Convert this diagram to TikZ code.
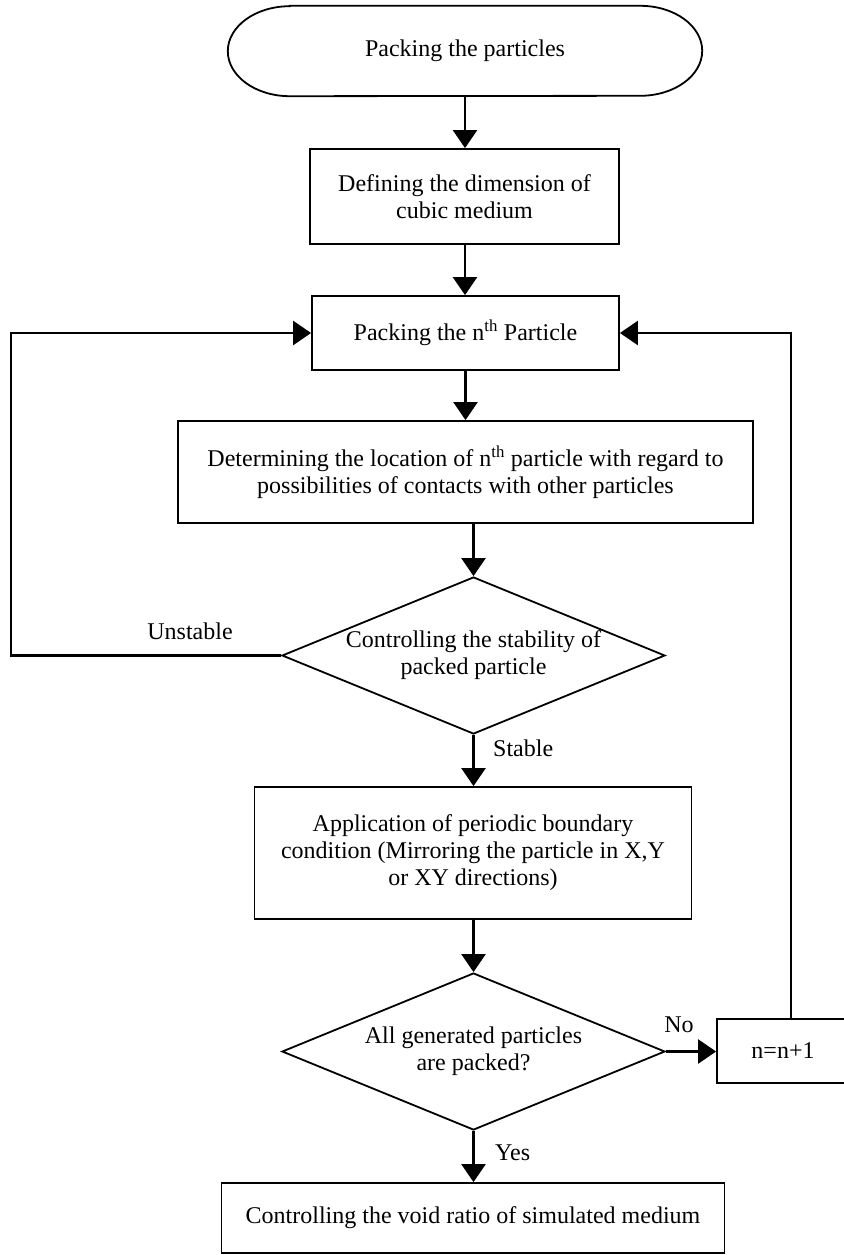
\documentclass[tikz,border=0pt]{standalone}
\usepackage{fontspec}
\setmainfont{Liberation Serif}
\usetikzlibrary{arrows.meta,shapes.geometric,calc}
\newcommand{\fs}{\fontsize{24}{27}\selectfont}
\tikzset{
  box/.style={draw, line width=1.8pt, inner sep=0pt, align=center, font=\fs, rectangle},
  dec/.style={draw, diamond, shape aspect=2.44, line width=1.8pt, inner sep=0pt,
              minimum width=383pt, minimum height=157pt, align=center, font=\fs},
  conn/.style={line width=2.4pt, -{Triangle[width=24pt,length=18pt]}},
  lbl/.style={inner sep=0pt, font=\fs},
}
\begin{document}
\begin{tikzpicture}[x=1pt,y=-1pt]
\useasboundingbox[fill=white] (0,0) rectangle (843,1255);
% terminal
\node[inner sep=0pt, minimum width=474pt, minimum height=90pt, font=\fs] (t) at (465,51) {Packing the particles};
\draw[line width=1.8pt] ([xshift=62pt]t.north west) -- ([xshift=-62pt]t.north east)
  arc[start angle=90, end angle=-90, x radius=62pt, y radius=45pt]
  -- ([xshift=62pt]t.south west)
  arc[start angle=270, end angle=90, x radius=62pt, y radius=45pt] -- cycle;
\node[box, minimum width=309pt, minimum height=95pt] (b2) at (464.5,196.5) {Defining the dimension of\\cubic medium};
\node[box, minimum width=307pt, minimum height=74pt] (b3) at (465.5,333) {Packing the n\textsuperscript{th} Particle};
\node[box, minimum width=575pt, minimum height=102pt] (b4) at (465.5,472) {Determining the location of n\textsuperscript{th} particle with regard to\\possibilities of contacts with other particles};
\node[dec] (d1) at (473.5,655.5) {Controlling the stability of\\packed particle};
\node[box, minimum width=437pt, minimum height=132pt] (b5) at (473,853) {Application of periodic boundary\\condition (Mirroring the particle in X,Y\\or XY directions)};
\node[dec] (d2) at (473.5,1051.5) {All generated particles\\are packed?};
\node[box, minimum width=132pt, minimum height=64pt] (bn) at (783,1051) {n=n+1};
\node[box, minimum width=503pt, minimum height=70pt] (b6) at (473,1218) {Controlling the void ratio of simulated medium};
% connectors
\draw[conn] (t.south) -- (t.south |- b2.north);
\draw[conn] (b2.south -| t.south) -- (t.south |- b3.north);
\draw[conn] (b3.south) -- (b3.south |- b4.north);
\draw[conn] (d1.north |- b4.south) -- (d1.north);
\draw[conn] (d1.south) -- (b5.north -| d1.south);
\draw[conn] (b5.south -| d2.north) -- (d2.north);
\draw[conn] (d2.south) -- (b6.north -| d2.south);
\draw[conn] (d2.east) -- (d2.east -| bn.west);
\coordinate (lc) at (11,655.5);
\coordinate (rc) at (791,0);
\draw[conn] (d1.west) -- (lc) |- (b3.west);
\draw[conn] (bn.north -| rc) |- (b3.east);
% labels
\node[lbl] (lu) at (190,631) {Unstable};
\node[lbl, anchor=west] (ls) at (493,748) {Stable};
\node[lbl] (ln) at (679,1025) {No};
\node[lbl, anchor=west] (ly) at (495,1153) {Yes};
\end{tikzpicture}
\end{document}
